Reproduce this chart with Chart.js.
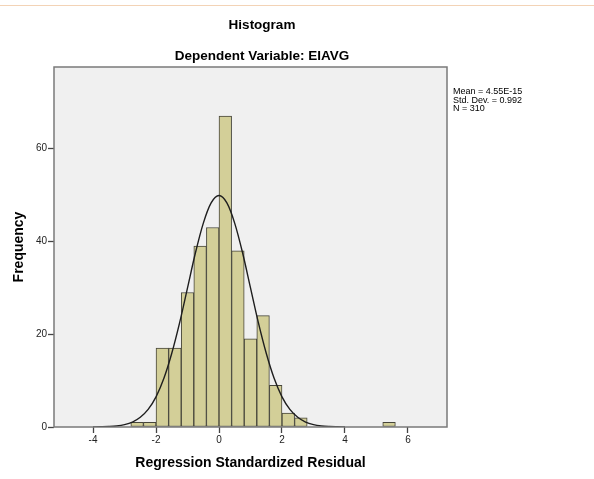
<!DOCTYPE html>
<html>
<head>
<meta charset="utf-8">
<script src="https://cdn.jsdelivr.net/npm/chart.js@4/dist/chart.umd.min.js"></script>
<style>
  html, body { margin: 0; padding: 0; background: #ffffff; }
  #wrap { position: relative; width: 594px; height: 479px; }
  canvas { display: block; }
</style>
</head>
<body>
<div id="wrap"><canvas id="c" width="594" height="479"></canvas></div>
<script>
// ---- data ----
const titleText = "Histogram";
const subtitleText = "Dependent Variable: EIAVG";
const xAxisTitle = "Regression Standardized Residual";
const yAxisTitle = "Frequency";
const statsLines = ["Mean = 4.55E-15", "Std. Dev. = 0.992", "N = 310"];

// bin centres (bin width 0.4) and frequencies
const binCenters = [-2.6, -2.2, -1.8, -1.4, -1.0, -0.6, -0.2, 0.2, 0.6, 1.0, 1.4, 1.8, 2.2, 2.6, 5.4];
const frequencies = [1, 1, 17, 17, 29, 39, 43, 67, 38, 19, 24, 9, 3, 2, 1];

// fitted normal curve
const curveX = [-4, -3.75, -3.5, -3.25, -3, -2.75, -2.5, -2.25, -2, -1.75, -1.5, -1.25, -1, -0.75, -0.5, -0.25,
                0, 0.25, 0.5, 0.75, 1, 1.25, 1.5, 1.75, 2, 2.25, 2.5, 2.75, 3, 3.25, 3.5, 3.75, 4];
const curveY = [0.0, 0.04, 0.1, 0.23, 0.52, 1.07, 2.1, 3.8, 6.5, 10.5, 15.9, 22.5, 30.0, 37.5, 43.9, 48.3,
                49.9, 48.3, 43.9, 37.5, 30.0, 22.5, 15.9, 10.5, 6.5, 3.8, 2.1, 1.07, 0.52, 0.23, 0.1, 0.04, 0.0];

const xTickValues = [-4, -2, 0, 2, 4, 6];
const yTickValues = [0, 20, 40, 60];

// ---- build chart ----
const barData = binCenters.map((x, i) => ({ x: x, y: frequencies[i] }));
const lineData = curveX.map((x, i) => ({ x: x, y: curveY[i] }));

const FONT = "'Liberation Sans', Arial, sans-serif";

const decor = {
  id: 'decor',
  beforeDraw(chart) {
    const { ctx, chartArea: a } = chart;
    ctx.save();
    // faint top rule
    ctx.strokeStyle = '#f3d3b6';
    ctx.lineWidth = 1;
    ctx.beginPath(); ctx.moveTo(0, 5.5); ctx.lineTo(594, 5.5); ctx.stroke();
    // plot background
    ctx.fillStyle = '#f0f0f0';
    ctx.fillRect(a.left, a.top, a.right - a.left, a.bottom - a.top);
    ctx.restore();
  },
  afterDraw(chart) {
    const { ctx, chartArea: a } = chart;
    ctx.save();
    ctx.strokeStyle = '#7a7a7a';
    ctx.lineWidth = 1.5;
    ctx.strokeRect(a.left, a.top, a.right - a.left, a.bottom - a.top);
    // titles
    ctx.fillStyle = '#000';
    ctx.textAlign = 'center';
    ctx.textBaseline = 'middle';
    ctx.font = "bold 13.5px " + FONT;
    ctx.fillText(titleText, 262, 25);
    ctx.fillText(subtitleText, 262, 56);
    // stats legend
    ctx.textAlign = 'left';
    ctx.font = "9px " + FONT;
    statsLines.forEach((t, i) => ctx.fillText(t, 453, 92 + i * 8.5));
    ctx.restore();
  }
};

new Chart(document.getElementById('c'), {
  type: 'bar',
  data: {
    datasets: [
      {
        type: 'line',
        data: lineData,
        borderColor: '#1e1e1e',
        borderWidth: 1.4,
        pointRadius: 0,
        cubicInterpolationMode: 'monotone',
        fill: false,
        order: 0
      },
      {
        type: 'bar',
        data: barData,
        backgroundColor: '#d3cf98',
        borderColor: '#46453a',
        borderWidth: 1,
        borderSkipped: false,
        barPercentage: 1,
        categoryPercentage: 1,
        order: 1
      }
    ]
  },
  options: {
    responsive: false,
    devicePixelRatio: 1,
    animation: false,
    events: [],
    layout: { padding: { left: 0, top: 67, right: 147, bottom: 0 } },
    plugins: { legend: { display: false }, tooltip: { enabled: false }, title: { display: false } },
    scales: {
      x: {
        type: 'linear',
        min: -5.24,
        max: 7.24,
        offset: false,
        afterFit(s) { s.height = 52; },
        afterBuildTicks(s) { s.ticks = xTickValues.map(v => ({ value: v })); },
        ticks: { stepSize: 2, includeBounds: false, color: '#222', font: { family: FONT, size: 10 }, padding: 1, maxRotation: 0 },
        grid: { display: true, drawOnChartArea: false, drawTicks: true, tickLength: 6, tickColor: '#444', tickWidth: 1.3, offset: false },
        border: { display: false },
        title: { display: true, text: xAxisTitle, color: '#000', font: { family: FONT, size: 14, weight: 'bold' }, padding: { top: 0, bottom: 7.6 } }
      },
      y: {
        type: 'linear',
        min: 0,
        max: 77.6,
        afterFit(s) { s.width = 54; },
        afterBuildTicks(s) { s.ticks = yTickValues.map(v => ({ value: v })); },
        ticks: { stepSize: 20, includeBounds: false, color: '#222', font: { family: FONT, size: 10 }, padding: 1 },
        grid: { display: true, drawOnChartArea: false, drawTicks: true, tickLength: 6, tickColor: '#444', tickWidth: 1.3 },
        border: { display: false },
        title: { display: true, text: yAxisTitle, color: '#000', font: { family: FONT, size: 14, weight: 'bold' }, padding: { top: 11, bottom: 0 } }
      }
    }
  },
  plugins: [decor]
});
</script>
</body>
</html>
